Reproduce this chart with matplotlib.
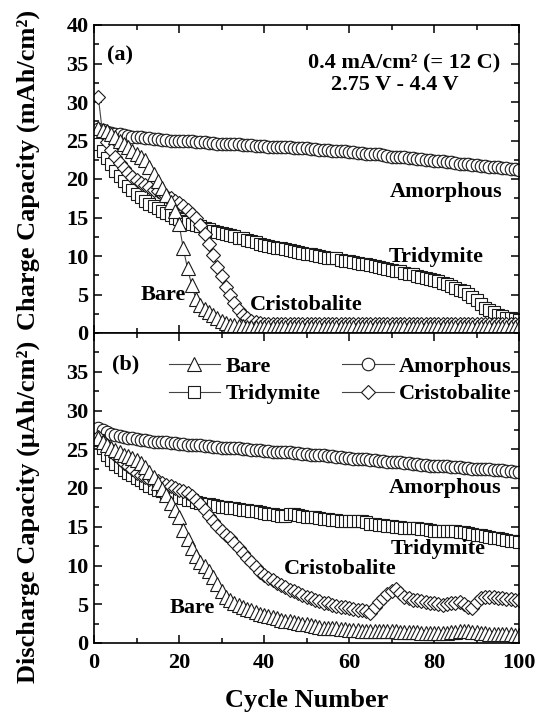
import matplotlib
matplotlib.use("Agg")
import matplotlib.pyplot as plt
from matplotlib.ticker import MultipleLocator

cycles = list(range(1, 101))

# ---- (a) charge capacity ----
bare_charge = [
    26.6, 26.4, 26.2, 25.9, 25.5, 25.0, 24.5, 24.1, 23.6, 23.2,
    22.9, 22.5, 21.6, 20.6, 19.7, 18.8, 17.9, 17.0, 15.9, 14.2,
    11.0, 8.4, 6.2, 4.4, 3.7, 3.1, 2.7, 2.3, 1.9, 1.6,
    1.3, 1.1, 1.0, 0.9, 0.9, 0.8, 0.8, 0.8, 0.8, 0.8,
    0.8, 0.8, 0.8, 0.8, 0.8, 0.8, 0.8, 0.8, 0.8, 0.8,
    0.8, 0.8, 0.8, 0.8, 0.8, 0.8, 0.8, 0.8, 0.8, 0.8,
    0.8, 0.8, 0.8, 0.8, 0.8, 0.8, 0.8, 0.8, 0.8, 0.8,
    0.8, 0.8, 0.8, 0.8, 0.8, 0.8, 0.8, 0.8, 0.8, 0.8,
    0.8, 0.8, 0.8, 0.8, 0.8, 0.8, 0.8, 0.8, 0.8, 0.8,
    0.8, 0.8, 0.8, 0.8, 0.8, 0.8, 0.8, 0.8, 0.8, 0.8,
]
amorphous_charge = [
    26.5, 26.3, 26.1, 26.0, 25.9, 25.8, 25.7, 25.6, 25.5, 25.4,
    25.4, 25.3, 25.3, 25.2, 25.2, 25.1, 25.1, 25.0, 25.0, 25.0,
    24.9, 24.9, 24.9, 24.8, 24.8, 24.8, 24.7, 24.7, 24.6, 24.6,
    24.6, 24.5, 24.5, 24.5, 24.4, 24.4, 24.4, 24.3, 24.3, 24.3,
    24.2, 24.2, 24.2, 24.1, 24.1, 24.1, 24.0, 24.0, 24.0, 24.0,
    23.9, 23.9, 23.8, 23.8, 23.8, 23.7, 23.7, 23.6, 23.6, 23.5,
    23.5, 23.4, 23.4, 23.3, 23.3, 23.2, 23.2, 23.1, 23.0, 22.9,
    22.9, 22.8, 22.8, 22.7, 22.7, 22.6, 22.6, 22.5, 22.5, 22.4,
    22.4, 22.3, 22.2, 22.2, 22.1, 22.0, 22.0, 21.9, 21.8, 21.8,
    21.7, 21.7, 21.6, 21.5, 21.5, 21.4, 21.4, 21.3, 21.3, 21.2,
]
tridymite_charge = [
    24.6, 23.6, 22.7, 21.9, 21.1, 20.4, 19.7, 19.1, 18.6, 18.1,
    17.6, 17.2, 16.8, 16.5, 16.2, 15.9, 15.6, 15.3, 15.0, 14.8,
    14.6, 14.4, 14.2, 14.0, 13.9, 13.7, 13.5, 13.3, 13.1, 13.0,
    12.8, 12.7, 12.6, 12.4, 12.3, 12.1, 12.0, 11.8, 11.6, 11.4,
    11.3, 11.2, 11.1, 11.0, 10.9, 10.8, 10.7, 10.5, 10.4, 10.3,
    10.2, 10.1, 10.0, 9.9, 9.8, 9.8, 9.7, 9.5, 9.4, 9.3,
    9.2, 9.1, 9.0, 8.9, 8.8, 8.7, 8.6, 8.5, 8.3, 8.2,
    8.1, 8.0, 7.8, 7.7, 7.6, 7.4, 7.3, 7.2, 7.0, 6.9,
    6.7, 6.5, 6.3, 6.1, 5.8, 5.6, 5.4, 5.1, 4.7, 4.3,
    3.8, 3.3, 3.0, 2.7, 2.4, 2.2, 2.0, 1.9, 1.8, 1.7,
]
cristobalite_charge = [
    30.7, 26.0, 24.8, 23.8, 22.9, 22.1, 21.4, 20.8, 20.3, 19.9,
    19.5, 19.2, 18.9, 18.6, 18.4, 18.1, 17.8, 17.5, 17.2, 16.9,
    16.5, 16.0, 15.5, 14.9, 14.0, 12.8, 11.6, 10.1, 8.6, 7.4,
    6.0, 4.9, 3.9, 3.0, 2.3, 1.9, 1.6, 1.4, 1.3, 1.2,
    1.2, 1.2, 1.2, 1.2, 1.2, 1.2, 1.2, 1.2, 1.2, 1.2,
    1.2, 1.2, 1.2, 1.2, 1.2, 1.2, 1.2, 1.2, 1.2, 1.2,
    1.2, 1.2, 1.2, 1.2, 1.2, 1.2, 1.2, 1.2, 1.2, 1.2,
    1.2, 1.2, 1.2, 1.2, 1.2, 1.2, 1.2, 1.2, 1.2, 1.2,
    1.2, 1.2, 1.2, 1.2, 1.2, 1.2, 1.2, 1.2, 1.2, 1.2,
    1.2, 1.2, 1.2, 1.2, 1.2, 1.2, 1.2, 1.2, 1.2, 1.2,
]

# ---- (b) discharge capacity ----
bare_discharge = [
    26.4, 26.0, 25.6, 25.2, 24.9, 24.6, 24.3, 24.1, 23.9, 23.6,
    23.2, 22.7, 22.1, 21.4, 20.6, 19.9, 19.1, 18.1, 17.2, 16.2,
    14.6, 13.4, 12.2, 11.2, 10.4, 9.9, 9.3, 8.5, 7.6, 6.7,
    6.0, 5.5, 5.2, 4.9, 4.7, 4.4, 4.2, 4.0, 3.8, 3.6,
    3.5, 3.3, 3.2, 3.0, 2.9, 2.8, 2.7, 2.6, 2.5, 2.4,
    2.3, 2.2, 2.1, 2.0, 2.0, 1.9, 1.9, 1.8, 1.8, 1.7,
    1.7, 1.7, 1.6, 1.6, 1.6, 1.6, 1.5, 1.5, 1.5, 1.5,
    1.5, 1.4, 1.4, 1.4, 1.4, 1.4, 1.3, 1.3, 1.3, 1.3,
    1.3, 1.3, 1.3, 1.4, 1.4, 1.5, 1.5, 1.5, 1.4, 1.4,
    1.3, 1.3, 1.2, 1.2, 1.2, 1.1, 1.1, 1.1, 1.0, 1.0,
]
amorphous_discharge = [
    27.8, 27.5, 27.2, 27.0, 26.8, 26.7, 26.6, 26.5, 26.4, 26.3,
    26.2, 26.2, 26.1, 26.0, 26.0, 25.9, 25.9, 25.8, 25.8, 25.7,
    25.7, 25.6, 25.6, 25.5, 25.5, 25.4, 25.4, 25.3, 25.3, 25.2,
    25.2, 25.2, 25.1, 25.1, 25.0, 25.0, 24.9, 24.9, 24.9, 24.8,
    24.8, 24.7, 24.7, 24.6, 24.6, 24.6, 24.5, 24.5, 24.4, 24.4,
    24.3, 24.3, 24.2, 24.2, 24.1, 24.1, 24.0, 24.0, 23.9, 23.9,
    23.8, 23.8, 23.7, 23.7, 23.6, 23.6, 23.5, 23.5, 23.4, 23.4,
    23.3, 23.3, 23.2, 23.2, 23.1, 23.1, 23.0, 23.0, 22.9, 22.9,
    22.9, 22.8, 22.8, 22.7, 22.7, 22.7, 22.6, 22.6, 22.5, 22.5,
    22.5, 22.4, 22.4, 22.3, 22.3, 22.3, 22.2, 22.2, 22.1, 22.1,
]
tridymite_discharge = [
    26.2, 25.2, 24.3, 23.6, 23.1, 22.7, 22.3, 22.0, 21.7, 21.3,
    21.0, 20.6, 20.3, 20.0, 19.8, 19.6, 19.4, 19.2, 19.0, 18.9,
    18.7, 18.5, 18.4, 18.2, 18.1, 18.0, 17.9, 17.8, 17.7, 17.6,
    17.5, 17.4, 17.4, 17.3, 17.2, 17.1, 17.0, 17.0, 16.9, 16.8,
    16.7, 16.6, 16.5, 16.4, 16.4, 16.6, 16.6, 16.5, 16.4, 16.3,
    16.2, 16.2, 16.1, 16.0, 16.0, 15.9, 15.9, 15.8, 15.8, 15.8,
    15.8, 15.8, 15.7, 15.6, 15.4, 15.3, 15.2, 15.2, 15.1, 15.1,
    15.0, 15.0, 14.9, 14.9, 14.8, 14.8, 14.7, 14.7, 14.6, 14.5,
    14.5, 14.4, 14.4, 14.4, 14.4, 14.3, 14.3, 14.2, 14.1, 14.0,
    13.9, 13.8, 13.7, 13.6, 13.5, 13.4, 13.3, 13.2, 13.1, 13.0,
]
cristobalite_discharge = [
    26.6, 26.0, 25.4, 24.8, 24.2, 23.7, 23.2, 22.8, 22.4, 22.0,
    21.7, 21.4, 21.2, 21.0, 20.9, 20.7, 20.4, 20.2, 20.0, 19.8,
    19.6, 19.4, 19.0, 18.5, 18.0, 17.2, 16.4, 15.7, 15.1, 14.5,
    14.0, 13.5, 12.9, 12.3, 11.6, 11.0, 10.4, 9.8, 9.2, 8.8,
    8.4, 8.1, 7.8, 7.5, 7.2, 6.9, 6.7, 6.4, 6.2, 6.0,
    5.8, 5.6, 5.4, 5.2, 5.1, 4.9, 4.8, 4.7, 4.6, 4.5,
    4.4, 4.3, 4.2, 4.1, 3.9, 4.6, 5.3, 5.8, 6.3, 6.7,
    7.0, 6.5, 6.0, 5.8, 5.6, 5.5, 5.4, 5.3, 5.2, 5.1,
    5.0, 4.9, 5.0, 5.1, 5.2, 5.3, 5.0, 4.7, 4.5, 5.3,
    5.8, 5.9, 6.0, 5.9, 5.8, 5.8, 5.7, 5.7, 5.6, 5.6,
]

names = ["Bare", "Amorphous", "Tridymite", "Cristobalite"]
markers = {"Bare": "^", "Amorphous": "o", "Tridymite": "s", "Cristobalite": "D"}
msizes = {"Bare": 10, "Amorphous": 9, "Tridymite": 8, "Cristobalite": 7.2}

plt.rcParams["font.family"] = ["Liberation Serif", "DejaVu Serif"]
plt.rcParams["font.weight"] = "bold"
plt.rcParams["axes.labelweight"] = "bold"

fig = plt.figure(figsize=(5.36, 7.13), dpi=100)
L, R = 94 / 536, 519 / 536
ax1 = fig.add_axes([L, 1 - 333 / 713, R - L, (333 - 25) / 713])
ax2 = fig.add_axes([L, 1 - 643 / 713, R - L, (643 - 333) / 713])

def draw(ax, data):
    order = ["Amorphous", "Tridymite", "Cristobalite", "Bare"]
    handles = {}
    for n in order:
        h, = ax.plot(cycles, data[n], marker=markers[n], ms=msizes[n],
                     mfc="white", mec="#1a1a1a", mew=0.8,
                     color="#444444", lw=0.8, label=n)
        handles[n] = h
    return handles

draw(ax1, {"Bare": bare_charge, "Amorphous": amorphous_charge,
           "Tridymite": tridymite_charge, "Cristobalite": cristobalite_charge})
hs = draw(ax2, {"Bare": bare_discharge, "Amorphous": amorphous_discharge,
                "Tridymite": tridymite_discharge, "Cristobalite": cristobalite_discharge})

for ax in (ax1, ax2):
    ax.set_xlim(0, 100)
    ax.set_ylim(0, 40)
    ax.xaxis.set_major_locator(MultipleLocator(20))
    ax.xaxis.set_minor_locator(MultipleLocator(10))
    ax.yaxis.set_major_locator(MultipleLocator(5))
    ax.yaxis.set_minor_locator(MultipleLocator(2.5))
    ax.tick_params(which="both", direction="in", top=True, right=True, width=1.1)
    ax.tick_params(which="major", length=6, labelsize=16)
    ax.tick_params(which="minor", length=3.5)
    ax.tick_params(axis="y", pad=4)
    ax.tick_params(axis="x", pad=7)
    for s in ax.spines.values():
        s.set_linewidth(1.2)

ax1.tick_params(labelbottom=False)
ax2.set_yticks([0, 5, 10, 15, 20, 25, 30, 35])
ax2.set_ylim(0, 40)
ax2.set_xlabel("Cycle Number", fontsize=19, labelpad=12)

fig.text(28 / 536, 1 - 170 / 713, "Charge Capacity (mAh/cm²)", rotation=90,
         ha="center", va="center", fontsize=19, fontweight="bold")
fig.text(28 / 536, 1 - 512 / 713, "Discharge Capacity (μAh/cm²)", rotation=90,
         ha="center", va="center", fontsize=19, fontweight="bold")

fs = 16
ax1.text(0.03, 0.9, "(a)", transform=ax1.transAxes, fontsize=fs, fontweight="bold", va="center")
ax1.text(0.73, 0.876, "0.4 mA/cm² (= 12 C)", transform=ax1.transAxes, fontsize=fs,
         fontweight="bold", ha="center", va="center")
ax1.text(0.708, 0.805, "2.75 V - 4.4 V", transform=ax1.transAxes, fontsize=fs,
         fontweight="bold", ha="center", va="center")
ax1.text(82.8, 18.3, "Amorphous", fontsize=fs, fontweight="bold", ha="center", va="center")
ax1.text(80.5, 9.9, "Tridymite", fontsize=fs, fontweight="bold", ha="center", va="center")
ax1.text(16.3, 4.9, "Bare", fontsize=fs, fontweight="bold", ha="center", va="center")
ax1.text(49.9, 3.6, "Cristobalite", fontsize=fs, fontweight="bold", ha="center", va="center")

ax2.text(0.043, 0.9, "(b)", transform=ax2.transAxes, fontsize=fs, fontweight="bold", va="center")
ax2.text(82.6, 20.0, "Amorphous", fontsize=fs, fontweight="bold", ha="center", va="center")
ax2.text(80.9, 12.1, "Tridymite", fontsize=fs, fontweight="bold", ha="center", va="center")
ax2.text(57.9, 9.5, "Cristobalite", fontsize=fs, fontweight="bold", ha="center", va="center")
ax2.text(23.1, 4.5, "Bare", fontsize=fs, fontweight="bold", ha="center", va="center")

leg = ax2.legend([hs["Bare"], hs["Tridymite"], hs["Amorphous"], hs["Cristobalite"]],
                 ["Bare", "Tridymite", "Amorphous", "Cristobalite"],
                 ncol=2, loc="upper left", bbox_to_anchor=(0.165, 0.94),
                 frameon=False, fontsize=fs, handlelength=2.3, handletextpad=0.25,
                 columnspacing=1.0, labelspacing=0.33, borderpad=0.2, borderaxespad=0)

fig.savefig("out.png", dpi=100)
